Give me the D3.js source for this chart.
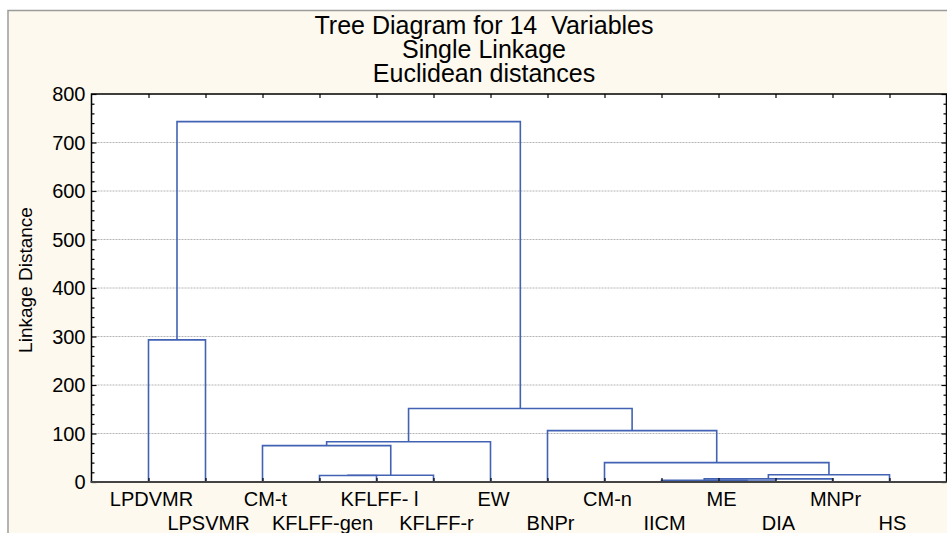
<!DOCTYPE html>
<html>
<head>
<meta charset="utf-8">
<script src="https://cdn.jsdelivr.net/npm/d3@7"></script>
<style>
  body { margin: 0; background: #fff; }
  svg { display: block; font-family: "Liberation Sans", Arial, sans-serif; }
  text { white-space: pre; }
</style>
</head>
<body>
<script>
const width = 947;
const height = 533;

const titleLines = ["Tree Diagram for 14  Variables", "Single Linkage", "Euclidean distances"];
const yLabel = "Linkage Distance";

// leaf order along the x axis
const leaves = [
  "LPDVMR", "LPSVMR", "CM-t", "KFLFF-gen", "KFLFF- l", "KFLFF-r", "EW",
  "BNPr", "CM-n", "IICM", "ME", "DIA", "MNPr", "HS"
];

// merges: [child a, child b, linkage distance]; ids 0-13 are leaves, 14+ are new clusters
const merges = [
  [10, 11, 2],
  [9, 14, 3.5],
  [15, 12, 6.5],
  [3, 4, 13.5],
  [17, 5, 14],
  [16, 13, 15],
  [8, 19, 40],
  [2, 18, 75],
  [21, 6, 83],
  [7, 20, 106],
  [22, 23, 151.5],
  [0, 1, 293],
  [25, 24, 743]
];

const yTicks = [0, 100, 200, 300, 400, 500, 600, 700, 800];

const plot = { left: 91.5, right: 946.5, top: 94, bottom: 482 };

const x = d3.scaleLinear().domain([0, leaves.length + 1]).range([plot.left, plot.right]);
const y = d3.scaleLinear().domain([0, 800]).range([plot.bottom, plot.top]);

const svg = d3.select("body").append("svg")
  .attr("width", width)
  .attr("height", height);

// beige panel
svg.append("rect")
  .attr("x", 8).attr("y", 10.5)
  .attr("width", width).attr("height", height)
  .attr("fill", "#fdf9ee")
  .attr("stroke", "#9c9c9c")
  .attr("stroke-width", 1.5);

svg.append("g")
  .attr("text-anchor", "middle")
  .attr("font-size", 25)
  .selectAll("text")
  .data(titleLines)
  .join("text")
  .attr("x", 484)
  .attr("y", (d, i) => 33.5 + i * 24)
  .text(d => d);

svg.append("rect")
  .attr("x", plot.left).attr("y", plot.top)
  .attr("width", plot.right - plot.left).attr("height", plot.bottom - plot.top)
  .attr("fill", "#fff");

// grid
svg.append("g")
  .selectAll("line")
  .data(yTicks.filter(d => d > 0 && d < 800))
  .join("line")
  .attr("x1", plot.left).attr("x2", plot.right)
  .attr("y1", d => y(d)).attr("y2", d => y(d))
  .attr("stroke", "#b4b4b4")
  .attr("stroke-dasharray", "2,1");

// node positions
const nodes = leaves.map((name, i) => ({ x: i + 1, h: 0 }));
merges.forEach(([a, b, h]) => {
  nodes.push({ x: (nodes[a].x + nodes[b].x) / 2, h });
});

const link = d3.line();
svg.append("g")
  .attr("fill", "none")
  .attr("stroke", "#4262b4")
  .attr("stroke-width", 1.6)
  .selectAll("path")
  .data(merges)
  .join("path")
  .attr("d", ([a, b, h]) => link([
    [x(nodes[a].x), y(nodes[a].h)],
    [x(nodes[a].x), y(h)],
    [x(nodes[b].x), y(h)],
    [x(nodes[b].x), y(nodes[b].h)]
  ]));

// axes
const minor = d3.range(0, 801, 20).filter(d => d % 100 !== 0);

svg.append("g")
  .attr("transform", `translate(${plot.left},0)`)
  .call(d3.axisRight(y).tickValues(yTicks).tickSize(5).tickFormat(""))
  .call(g => g.select(".domain").remove());
svg.append("g")
  .attr("transform", `translate(${plot.left},0)`)
  .call(d3.axisRight(y).tickValues(minor).tickSize(3).tickFormat(""))
  .call(g => g.select(".domain").remove());
svg.append("g")
  .attr("transform", `translate(${plot.right},0)`)
  .call(d3.axisLeft(y).tickValues(yTicks).tickSize(5).tickFormat(""))
  .call(g => g.select(".domain").remove());
svg.append("g")
  .attr("transform", `translate(${plot.right},0)`)
  .call(d3.axisLeft(y).tickValues(minor).tickSize(3).tickFormat(""))
  .call(g => g.select(".domain").remove());

const leafX = leaves.map((d, i) => i + 1);
svg.append("g")
  .attr("transform", `translate(0,${plot.top})`)
  .call(d3.axisBottom(x).tickValues(leafX).tickSize(4).tickFormat(""))
  .call(g => g.select(".domain").remove());
svg.append("g")
  .attr("transform", `translate(0,${plot.bottom})`)
  .call(d3.axisTop(x).tickValues(leafX).tickSize(4).tickFormat(""))
  .call(g => g.select(".domain").remove());

svg.selectAll(".tick line").attr("stroke", "#000").attr("stroke-width", 1.2);

// frame
svg.append("path")
  .attr("d", `M${plot.left},${plot.bottom}V${plot.top}H${plot.right}V${plot.bottom}`)
  .attr("fill", "none")
  .attr("stroke", "#000")
  .attr("stroke-width", 1.5);
svg.append("line")
  .attr("x1", plot.left - 1).attr("x2", plot.right)
  .attr("y1", plot.bottom).attr("y2", plot.bottom)
  .attr("stroke", "#444")
  .attr("stroke-width", 2.2);

// tick labels
svg.append("g")
  .attr("text-anchor", "end")
  .attr("font-size", 20)
  .selectAll("text")
  .data(yTicks)
  .join("text")
  .attr("x", 85.5)
  .attr("y", d => y(d))
  .attr("dy", "0.36em")
  .text(d => d);

svg.append("g")
  .attr("text-anchor", "middle")
  .attr("font-size", 20)
  .selectAll("text")
  .data(leaves)
  .join("text")
  .attr("x", (d, i) => x(i + 1) + 3)
  .attr("y", (d, i) => i % 2 === 0 ? 506 : 530)
  .text(d => d);

svg.append("text")
  .attr("transform", "translate(32,280) rotate(-90)")
  .attr("text-anchor", "middle")
  .attr("font-size", 19)
  .text(yLabel);
</script>
</body>
</html>
